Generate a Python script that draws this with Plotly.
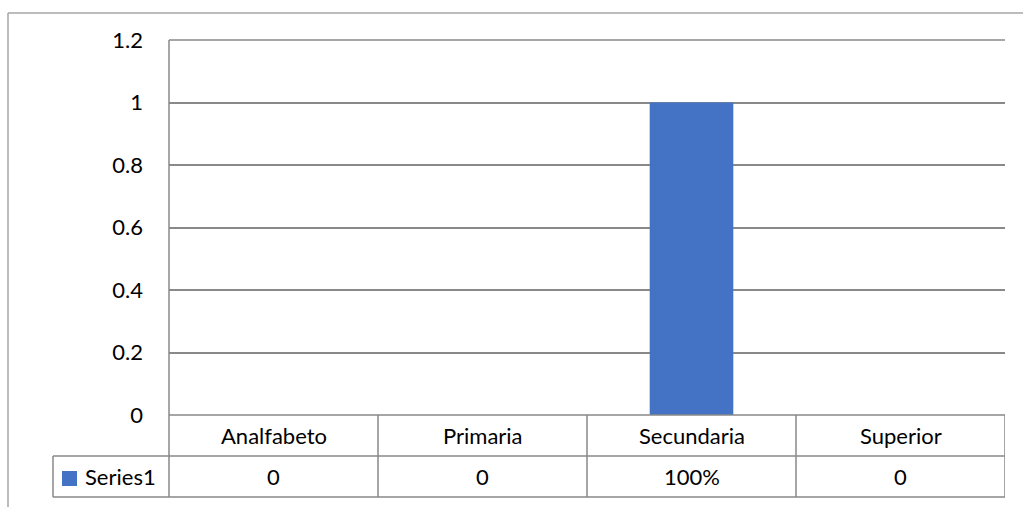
import plotly.graph_objects as go

# Chart data
categories = ["Analfabeto", "Primaria", "Secundaria", "Superior"]
values = [0, 0, 1, 0]
table_labels = ["0", "0", "100%", "0"]
series_name = "Series1"
y_ticks = [0, 0.2, 0.4, 0.6, 0.8, 1, 1.2]
y_tick_text = ["0", "0.2", "0.4", "0.6", "0.8", "1", "1.2"]

W, H = 1023, 507
BAR = "#4472C4"
GRID = "#898989"
FONT = "Lato"


def px(x):
    return x / W


def py(y):
    return 1 - y / H


# plot area in pixels
L, R, T, B = 169, 1005, 40, 415
ROW1, ROW2 = 456, 497
LEG_L = 53

fig = go.Figure(
    go.Bar(
        x=list(range(len(categories))),
        y=values,
        marker=dict(color=BAR, line=dict(width=0)),
        width=0.4,
        name=series_name,
        showlegend=False,
    )
)

shapes = []
line = dict(color=GRID, width=1.5)

# top gridline along the upper edge of the plot area (paper ref so it isn't clipped)
shapes.append(dict(type="line", xref="paper", yref="paper",
                   x0=px(L), x1=px(R), y0=py(T), y1=py(T), line=line))
# table horizontal lines
for yy in (ROW1, ROW2):
    shapes.append(dict(type="line", xref="paper", yref="paper",
                       x0=px(LEG_L), x1=px(R), y0=py(yy), y1=py(yy), line=line))
shapes.append(dict(type="line", xref="paper", yref="paper",
                   x0=px(L), x1=px(R), y0=py(B), y1=py(B), line=line))
# left axis line running through the table
shapes.append(dict(type="line", xref="paper", yref="paper",
                   x0=px(L), x1=px(L), y0=py(T), y1=py(ROW2), line=line))
# series cell left edge
shapes.append(dict(type="line", xref="paper", yref="paper",
                   x0=px(LEG_L), x1=px(LEG_L), y0=py(ROW1), y1=py(ROW2), line=line))
# category boundaries in the table
for i in range(len(categories)):
    shapes.append(dict(type="line", xref="x", yref="paper",
                       x0=i + 0.5, x1=i + 0.5, y0=py(B), y1=py(ROW2), line=line))
# legend swatch
shapes.append(dict(type="rect", xref="paper", yref="paper",
                   x0=px(62), x1=px(77), y0=py(471), y1=py(486),
                   fillcolor=BAR, line=dict(width=0)))
# outer chart frame (top and left edges)
frame = dict(color="#a6a6a6", width=1.5)
shapes.append(dict(type="line", xref="paper", yref="paper",
                   x0=px(8), x1=1, y0=py(13), y1=py(13), line=frame))
shapes.append(dict(type="line", xref="paper", yref="paper",
                   x0=px(8), x1=px(8), y0=py(13), y1=0, line=frame))

annotations = []
txt = dict(family=FONT, size=22, color="#000000")
for i, (c, lab) in enumerate(zip(categories, table_labels)):
    annotations.append(dict(x=i, xref="x", y=py((B + ROW1) / 2), yref="paper",
                            text=c, showarrow=False, font=txt,
                            xanchor="center", yanchor="middle"))
    annotations.append(dict(x=i, xref="x", y=py((ROW1 + ROW2) / 2), yref="paper",
                            text=lab, showarrow=False, font=txt,
                            xanchor="center", yanchor="middle"))
annotations.append(dict(x=px(83), xref="paper", y=py((ROW1 + ROW2) / 2), yref="paper",
                        text=series_name, showarrow=False, font=txt,
                        xanchor="left", yanchor="middle"))

fig.update_layout(
    width=W, height=H,
    margin=dict(l=0, r=0, t=0, b=0, pad=0),
    paper_bgcolor="white", plot_bgcolor="white",
    font=txt,
    showlegend=False,
    bargap=0.6,
    xaxis=dict(domain=[px(L), px(R)], range=[-0.5, len(categories) - 0.5],
               showticklabels=False, showgrid=False, zeroline=False,
               showline=False, fixedrange=True, automargin=False),
    yaxis=dict(domain=[py(B), py(T)], range=[0, 1.2],
               tickvals=y_ticks, ticktext=y_tick_text,
               showgrid=True, gridcolor=GRID, gridwidth=1.5,
               zeroline=False, showline=False,
               ticks="", ticklabelstandoff=25, fixedrange=True,
               tickfont=txt, automargin=False),
    shapes=shapes,
    annotations=annotations,
)

fig.write_html("out.html")
